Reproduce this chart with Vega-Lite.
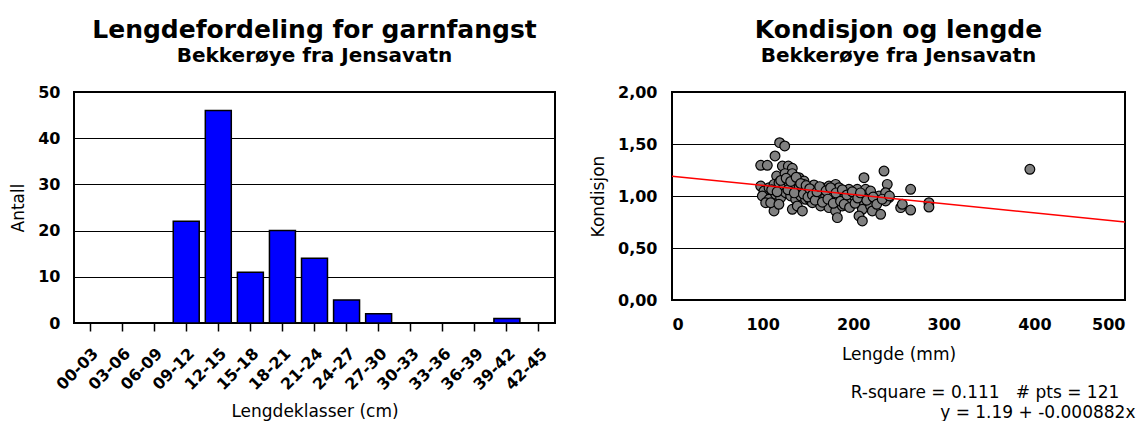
{
  "$schema": "https://vega.github.io/schema/vega-lite/v6.json",
  "background": "white",
  "padding": {"left": 8, "top": 17, "right": 0, "bottom": 0},
  "spacing": 32,
  "datasets": {
    "klasser": [
      {"klasse": "00-03", "antall": 0},
      {"klasse": "03-06", "antall": 0},
      {"klasse": "06-09", "antall": 0},
      {"klasse": "09-12", "antall": 22},
      {"klasse": "12-15", "antall": 46},
      {"klasse": "15-18", "antall": 11},
      {"klasse": "18-21", "antall": 20},
      {"klasse": "21-24", "antall": 14},
      {"klasse": "24-27", "antall": 5},
      {"klasse": "27-30", "antall": 2},
      {"klasse": "30-33", "antall": 0},
      {"klasse": "33-36", "antall": 0},
      {"klasse": "36-39", "antall": 0},
      {"klasse": "39-42", "antall": 1},
      {"klasse": "42-45", "antall": 0}
    ],
    "fisk": [
      {"lengde": 118.8, "kond": 1.513}, {"lengde": 124.4, "kond": 1.481}, {"lengde": 113.7, "kond": 1.385},
      {"lengde": 97.9, "kond": 1.295}, {"lengde": 105.2, "kond": 1.295}, {"lengde": 121.8, "kond": 1.288},
      {"lengde": 128.4, "kond": 1.288}, {"lengde": 132.8, "kond": 1.266}, {"lengde": 115.5, "kond": 1.192},
      {"lengde": 124.7, "kond": 1.215}, {"lengde": 132.8, "kond": 1.215}, {"lengde": 140.2, "kond": 1.176},
      {"lengde": 145.7, "kond": 1.144}, {"lengde": 97.9, "kond": 1.096}, {"lengde": 101.5, "kond": 1.048},
      {"lengde": 107.1, "kond": 1.08}, {"lengde": 112.6, "kond": 1.112}, {"lengde": 118.1, "kond": 1.128},
      {"lengde": 123.6, "kond": 1.096}, {"lengde": 129.1, "kond": 1.128}, {"lengde": 134.7, "kond": 1.096},
      {"lengde": 140.2, "kond": 1.08}, {"lengde": 145.7, "kond": 1.112}, {"lengde": 149.4, "kond": 1.064},
      {"lengde": 156.7, "kond": 1.106}, {"lengde": 165.9, "kond": 1.08}, {"lengde": 173.3, "kond": 1.096},
      {"lengde": 180.6, "kond": 1.112}, {"lengde": 184.3, "kond": 1.08}, {"lengde": 191.7, "kond": 1.048},
      {"lengde": 99.7, "kond": 1.0}, {"lengde": 107.1, "kond": 0.968}, {"lengde": 114.4, "kond": 1.016},
      {"lengde": 119.9, "kond": 0.984}, {"lengde": 125.5, "kond": 1.032}, {"lengde": 131.0, "kond": 1.0},
      {"lengde": 136.5, "kond": 0.968}, {"lengde": 142.0, "kond": 1.0}, {"lengde": 147.5, "kond": 0.968},
      {"lengde": 153.0, "kond": 0.952}, {"lengde": 162.2, "kond": 0.984}, {"lengde": 169.6, "kond": 1.0},
      {"lengde": 177.0, "kond": 1.016}, {"lengde": 184.3, "kond": 0.984}, {"lengde": 112.6, "kond": 0.856},
      {"lengde": 132.8, "kond": 0.872}, {"lengde": 138.3, "kond": 0.904}, {"lengde": 143.9, "kond": 0.856},
      {"lengde": 154.9, "kond": 0.936}, {"lengde": 164.1, "kond": 0.904}, {"lengde": 173.3, "kond": 0.888},
      {"lengde": 180.6, "kond": 0.856}, {"lengde": 188.0, "kond": 0.904}, {"lengde": 182.5, "kond": 0.792},
      {"lengde": 103.4, "kond": 0.936}, {"lengde": 108.9, "kond": 0.936}, {"lengde": 195.3, "kond": 1.064},
      {"lengde": 193.5, "kond": 0.968}, {"lengde": 200.9, "kond": 1.0}, {"lengde": 204.5, "kond": 1.064},
      {"lengde": 211.9, "kond": 1.176}, {"lengde": 213.7, "kond": 1.064}, {"lengde": 211.9, "kond": 0.936},
      {"lengde": 210.1, "kond": 0.872}, {"lengde": 206.4, "kond": 0.808}, {"lengde": 210.1, "kond": 0.76},
      {"lengde": 219.2, "kond": 1.048}, {"lengde": 219.2, "kond": 0.904}, {"lengde": 221.1, "kond": 0.856},
      {"lengde": 228.5, "kond": 1.0}, {"lengde": 230.3, "kond": 0.824}, {"lengde": 234.0, "kond": 1.24},
      {"lengde": 237.6, "kond": 1.112}, {"lengde": 235.8, "kond": 1.032}, {"lengde": 239.5, "kond": 0.984},
      {"lengde": 235.8, "kond": 0.952}, {"lengde": 252.4, "kond": 0.888}, {"lengde": 254.2, "kond": 0.92},
      {"lengde": 263.4, "kond": 1.064}, {"lengde": 263.4, "kond": 0.865}, {"lengde": 283.6, "kond": 0.936},
      {"lengde": 283.6, "kond": 0.894}, {"lengde": 395.0, "kond": 1.257}, {"lengde": 110, "kond": 1.06},
      {"lengde": 116, "kond": 1.04}, {"lengde": 120, "kond": 1.15}, {"lengde": 126, "kond": 1.17},
      {"lengde": 128, "kond": 1.06}, {"lengde": 131, "kond": 1.14}, {"lengde": 135, "kond": 1.03},
      {"lengde": 137, "kond": 1.18}, {"lengde": 142, "kond": 1.12}, {"lengde": 145, "kond": 1.02},
      {"lengde": 148, "kond": 1.1}, {"lengde": 150, "kond": 0.99}, {"lengde": 152, "kond": 1.07},
      {"lengde": 155, "kond": 1.01}, {"lengde": 158, "kond": 0.96}, {"lengde": 160, "kond": 1.04},
      {"lengde": 163, "kond": 1.09}, {"lengde": 166, "kond": 0.94}, {"lengde": 170, "kond": 1.05},
      {"lengde": 172, "kond": 0.97}, {"lengde": 175, "kond": 1.08}, {"lengde": 178, "kond": 0.93},
      {"lengde": 181, "kond": 1.03}, {"lengde": 186, "kond": 0.95}, {"lengde": 188, "kond": 1.06},
      {"lengde": 190, "kond": 0.92}, {"lengde": 193, "kond": 1.01}, {"lengde": 196, "kond": 0.89},
      {"lengde": 199, "kond": 1.04}, {"lengde": 202, "kond": 0.93}, {"lengde": 205, "kond": 0.98},
      {"lengde": 208, "kond": 1.03}, {"lengde": 215, "kond": 0.96}, {"lengde": 222, "kond": 0.99},
      {"lengde": 226, "kond": 0.92}, {"lengde": 232, "kond": 0.97}, {"lengde": 240, "kond": 1.0},
      {"lengde": 118, "kond": 0.92}
    ],
    "regresjon": [
      {"lengde": 0, "kond": 1.19},
      {"lengde": 500, "kond": 0.749}
    ]
  },
  "config": {
    "font": "DejaVu Sans",
    "view": {"stroke": "black", "strokeWidth": 2},
    "axis": {
      "labelFont": "DejaVu Sans", "labelFontWeight": "bold", "labelFontSize": 16, "labelColor": "black",
      "titleFont": "DejaVu Sans", "titleFontWeight": "normal", "titleFontSize": 17, "titleColor": "black",
      "gridColor": "black", "gridOpacity": 1, "gridWidth": 1, "domain": false, "tickColor": "black"
    },
    "title": {
      "font": "DejaVu Sans", "fontSize": 25, "fontWeight": "bold", "color": "black",
      "subtitleFont": "DejaVu Sans", "subtitleFontSize": 20, "subtitleFontWeight": "bold", "subtitleColor": "black",
      "anchor": "middle", "frame": "group", "offset": 18, "subtitlePadding": 3
    }
  },
  "hconcat": [
    {
      "width": 481,
      "height": 231,
      "title": {"text": "Lengdefordeling for garnfangst", "subtitle": "Bekkerøye fra Jensavatn"},
      "data": {"name": "klasser"},
      "mark": {"type": "bar", "color": "#0000FF", "stroke": "black", "strokeWidth": 1.5},
      "encoding": {
        "x": {
          "field": "klasse", "type": "ordinal", "sort": null,
          "scale": {"paddingInner": 0.19, "paddingOuter": 0.095},
          "axis": {"title": "Lengdeklasser (cm)", "labelAngle": -45, "ticks": true, "tickSize": 8, "tickWidth": 1.5,
                   "labelPadding": 14, "titlePadding": 11, "grid": false}
        },
        "y": {
          "field": "antall", "type": "quantitative", "scale": {"domain": [0, 50]},
          "axis": {"values": [0, 10, 20, 30, 40, 50], "title": "Antall", "ticks": false, "tickSize": 0,
                   "labelPadding": 14, "titlePadding": 10, "grid": true}
        }
      }
    },
    {
      "width": 453,
      "height": 208,
      "title": {"text": "Kondisjon og lengde", "subtitle": "Bekkerøye fra Jensavatn"},
      "encoding": {
        "y": {
          "field": "kond", "type": "quantitative", "scale": {"domain": [0, 2]},
          "axis": {"values": [0, 0.5, 1, 1.5, 2], "title": "Kondisjon", "ticks": false, "tickSize": 0,
                   "labelPadding": 15, "titlePadding": 10, "grid": true,
                   "labelExpr": "replace(format(datum.value, '.2f'), '.', ',')"}
        }
      },
      "layer": [
        {
          "data": {"name": "fisk"},
          "mark": {"type": "circle", "size": 95, "color": "#808080", "opacity": 1, "stroke": "black", "strokeWidth": 1.2},
          "encoding": {
            "x": {
              "field": "lengde", "type": "quantitative", "scale": {"domain": [0, 500]},
              "axis": {"values": [0, 100, 200, 300, 400, 500], "title": "Lengde (mm)", "ticks": false, "tickSize": 0,
                       "labelPadding": 16, "titlePadding": 14, "grid": false}
            }
          }
        },
        {
          "data": {"name": "regresjon"},
          "mark": {"type": "line", "color": "red", "strokeWidth": 1.5},
          "encoding": {
            "x": {
              "field": "lengde", "type": "quantitative", "scale": {"domain": [0, 500]},
              "axis": {"orient": "bottom", "labels": false, "ticks": false, "domain": false, "grid": false,
                       "minExtent": 0, "titlePadding": 84,
                       "title": ["R-square = 0.111\u00a0\u00a0\u00a0# pts = 121\u00a0\u00a0\u00a0\u200b", "y = 1.19 + -0.000882x"],
                       "titleAnchor": "end", "titleAlign": "right", "titleX": 463, "titleFontSize": 17, "titleLineHeight": 20}
            }
          }
        }
      ],
      "resolve": {"scale": {"x": "independent"}, "axis": {"x": "independent"}}
    }
  ]
}
